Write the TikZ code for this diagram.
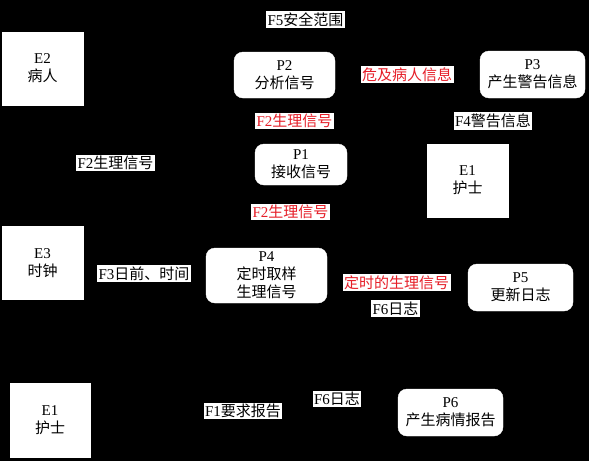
\documentclass[tikz,border=0pt]{standalone}
\usepackage{fontspec}
\setmainfont{Liberation Serif}
\newfontfamily\cjk{Noto Sans CJK SC}
\definecolor{lblred}{RGB}{230,30,40}
\begin{document}
\begin{tikzpicture}[x=1pt,y=-1pt,
  ent/.style={draw=white,fill=white,minimum width=81pt,minimum height=73pt,align=center,inner sep=0pt,font=\fontsize{15}{18}\selectfont},
  proc/.style={draw=white,fill=white,rounded corners=9pt,align=center,inner sep=0pt,font=\fontsize{15}{18}\selectfont},
  lbl/.style={fill=white,inner sep=1.5pt,font=\fontsize{15}{18}\selectfont},
  rlbl/.style={lbl,text=lblred}]
\fill[black] (0,0) rectangle (589,461);
\useasboundingbox (0,0) rectangle (589,461);
% entities
\node[ent] (e2) at (42.5,68.5) {E2\\{\cjk 病人}};
\node[ent] (e1a) at (467.5,180.5) {E1\\{\cjk 护士}};
\node[ent] (e3) at (42.5,263) {E3\\{\cjk 时钟}};
\node[ent,minimum width=80pt,minimum height=74pt] (e1b) at (50,420) {E1\\{\cjk 护士}};
% processes
\node[proc,minimum width=101pt,minimum height=46pt] (p2) at (284.5,75) {P2\\{\cjk 分析信号}};
\node[proc,minimum width=105pt,minimum height=47pt] (p3) at (532.5,74.5) {P3\\{\cjk 产生警告信息}};
\node[proc,minimum width=92pt,minimum height=41pt] (p1) at (301,164.5) {P1\\{\cjk 接收信号}};
\node[proc,minimum width=121pt,minimum height=55pt] (p4) at (266.5,275.5) {P4\\{\cjk 定时取样}\\{\cjk 生理信号}};
\node[proc,minimum width=105pt,minimum height=47pt] (p5) at (520.5,287.5) {P5\\{\cjk 更新日志}};
\node[proc,minimum width=105pt,minimum height=47pt] (p6) at (450.5,412.5) {P6\\{\cjk 产生病情报告}};
% labels
\node[lbl] (f5) at (305.5,19.5) {F5{\cjk 安全范围}};
\node[rlbl] (wx) at (407,74.5) {\cjk 危及病人信息};
\node[rlbl] (f2a) at (294.5,121) {F2{\cjk 生理信号}};
\node[lbl] (f4) at (493,121) {F4{\cjk 警告信息}};
\node[lbl] (f2b) at (115.5,163) {F2{\cjk 生理信号}};
\node[rlbl] (f2c) at (290.5,212) {F2{\cjk 生理信号}};
\node[lbl] (f3) at (144,273.5) {F3{\cjk 日前、时间}};
\node[rlbl] (ds) at (396.5,282.5) {\cjk 定时的生理信号};
\node[lbl] (f6a) at (395.5,308.5) {F6{\cjk 日志}};
\node[lbl] (f1) at (243,411) {F1{\cjk 要求报告}};
\node[lbl] (f6b) at (337,399) {F6{\cjk 日志}};
\end{tikzpicture}
\end{document}
